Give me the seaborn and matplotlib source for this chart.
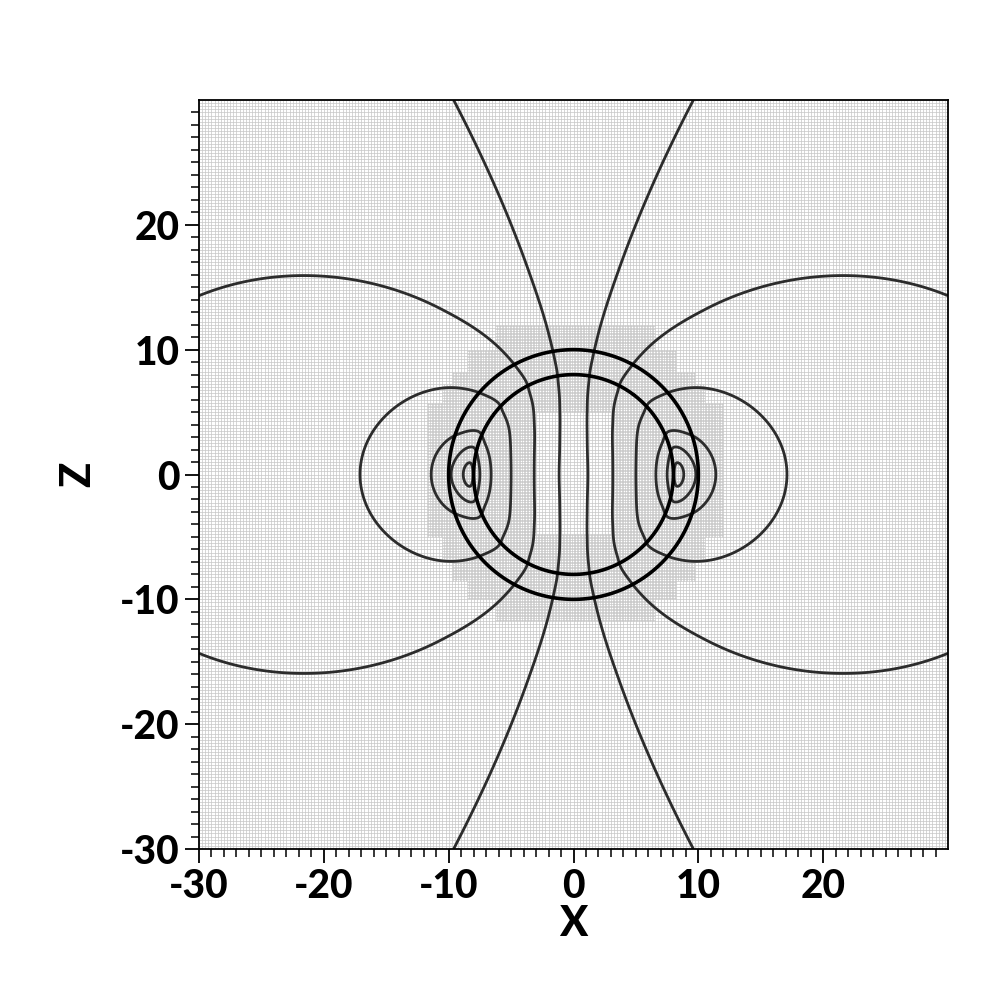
import numpy as np
import matplotlib
matplotlib.use("Agg")
import matplotlib.pyplot as plt
from matplotlib.collections import LineCollection
import seaborn as sns

# ---------------- data ----------------
x_limits = [-30, 30]
z_limits = [-30, 30]
major_ticks = [-30, -20, -10, 0, 10, 20]
tick_labels = ["-30", "-20", "-10", "0", "10", "20"]
minor_ticks = [v for v in range(-30, 30) if v % 10 != 0]

# radii on the z=0 line and the flux value there (flux = g(r) * sin^2(theta))
eq_radius = [1.2, 3.15, 5.0, 6.6, 7.5, 8.35, 9.8, 11.4, 17.1, 40.6]
eq_flux = [1.265, 9.6, 24.4, 38.6, 43.3, 46.5, 43.3, 38.6, 24.4, 9.6]
contour_levels = [1.16, 9.6, 24.4, 38.6, 43.3, 45.9]

# radii of the two shell circles
shell_radii = [8.0, 10.0]

# mesh: coarse and refined spacing, refined blocks (x0, x1, z0, z1)
coarse_dx = 0.25
fine_dx = 0.125
refined_blocks = [
    (-6.25, 6.5, -11.75, 12.0),
    (-8.5, 8.25, -10.0, 10.0),
    (-9.75, 9.75, -8.5, 8.25),
    (-10.5, 10.5, -7.0, 7.25),
    (-11.75, 12.0, -5.0, 5.75),
]
coarse_holes = [(-3.0, 3.25, -4.75, 5.0)]

# ---------------- style ----------------
sns.set_theme(style="ticks")
plt.rcParams["font.family"] = ["Lato", "DejaVu Sans"]

fig = plt.figure(figsize=(10, 10), dpi=100)
ax = fig.add_axes([0.199, 0.151, 0.749, 0.749])

# ---------------- mesh ----------------
mesh_color = "#c6c6c6"
mesh_lw = 0.5
x0, x1 = x_limits
z0, z1 = z_limits
coarse = np.arange(x0, x1 + 1e-9, coarse_dx)
segs = [[(v, z0), (v, z1)] for v in coarse]
segs += [[(x0, v), (x1, v)] for v in np.arange(z0, z1 + 1e-9, coarse_dx)]

n = int(round((x1 - x0) / fine_dx))
edges = x0 + fine_dx * np.arange(n + 1)
centers = edges[:-1] + fine_dx / 2
CX, CZ = np.meshgrid(centers, centers, indexing="ij")  # [ix, iz]
mask = np.zeros_like(CX, dtype=bool)
for (a, b, c, d) in refined_blocks:
    mask |= (CX > a) & (CX < b) & (CZ > c) & (CZ < d)
for (a, b, c, d) in coarse_holes:
    mask &= ~((CX > a) & (CX < b) & (CZ > c) & (CZ < d))


def runs(flags):
    p = np.concatenate([[0], flags.astype(int), [0]])
    dd = np.diff(p)
    return zip(np.where(dd == 1)[0], np.where(dd == -1)[0])


for k in range(1, n, 2):
    for s, e in runs(mask[k - 1, :]):
        segs.append([(edges[k], edges[s]), (edges[k], edges[e])])
    for s, e in runs(mask[:, k - 1]):
        segs.append([(edges[s], edges[k]), (edges[e], edges[k])])

ax.add_collection(LineCollection(segs, colors=mesh_color, linewidths=mesh_lw, zorder=1))

# ---------------- flux field: g(r) interpolated in log-log ----------------
lr = np.log(np.array(eq_radius))
lg = np.log(np.array(eq_flux))


def pchip_slopes(xk, yk, s0, s1):
    h = np.diff(xk)
    dlt = np.diff(yk) / h
    m = np.zeros_like(yk)
    for i in range(1, len(xk) - 1):
        if dlt[i - 1] * dlt[i] <= 0:
            m[i] = 0.0
        else:
            w1 = 2 * h[i] + h[i - 1]
            w2 = h[i] + 2 * h[i - 1]
            m[i] = (w1 + w2) / (w1 / dlt[i - 1] + w2 / dlt[i])
    m[0] = s0
    m[-1] = s1
    return m


inner_slope, outer_slope = 2.1, -1.0
slopes = pchip_slopes(lr, lg, inner_slope, outer_slope)


def log_g(x):
    out = np.empty_like(x)
    lo = x <= lr[0]
    hi = x >= lr[-1]
    out[lo] = lg[0] + inner_slope * (x[lo] - lr[0])
    out[hi] = lg[-1] + outer_slope * (x[hi] - lr[-1])
    mid = ~(lo | hi)
    xm = x[mid]
    idx = np.clip(np.searchsorted(lr, xm) - 1, 0, len(lr) - 2)
    hh = lr[idx + 1] - lr[idx]
    t = (xm - lr[idx]) / hh
    h00 = 2 * t**3 - 3 * t**2 + 1
    h10 = t**3 - 2 * t**2 + t
    h01 = -2 * t**3 + 3 * t**2
    h11 = t**3 - t**2
    out[mid] = (h00 * lg[idx] + h10 * hh * slopes[idx]
                + h01 * lg[idx + 1] + h11 * hh * slopes[idx + 1])
    return out


gx = np.linspace(x0, x1, 1201)
gz = np.linspace(z0, z1, 1201)
X, Z = np.meshgrid(gx, gz)
R = np.sqrt(X**2 + Z**2)
Rs = np.maximum(R, 1e-6)
psi = np.exp(log_g(np.log(Rs).ravel())).reshape(R.shape) * (X / Rs) ** 2

ax.contour(X, Z, psi, levels=contour_levels, colors="#2c2c2c",
           linewidths=2.0, zorder=3)
ax.contour(X, Z, R, levels=shell_radii, colors="black",
           linewidths=2.6, zorder=4)

# ---------------- axes ----------------
ax.set_xlim(x_limits)
ax.set_ylim(z_limits)
ax.set_xticks(major_ticks)
ax.set_yticks(major_ticks)
ax.set_xticks(minor_ticks, minor=True)
ax.set_yticks(minor_ticks, minor=True)
ax.set_xticklabels(tick_labels)
ax.set_yticklabels(tick_labels)
for sp in ax.spines.values():
    sp.set_color("black")
    sp.set_linewidth(1.3)
    sp.set_zorder(5)
ax.tick_params(which="major", direction="out", length=10, width=1.3,
               color="black", labelsize=28, pad=4,
               top=False, right=False)
ax.tick_params(which="minor", direction="out", length=6, width=1.1,
               color="black", top=False, right=False)
for lab in ax.get_xticklabels() + ax.get_yticklabels():
    lab.set_fontweight("black")
    lab.set_color("black")
ax.set_xlabel("X", fontsize=30, fontweight="black", color="black", labelpad=0)
ax.set_ylabel("Z", fontsize=30, fontweight="black", color="black", labelpad=16)
ax.grid(False)
ax.set_facecolor("white")

fig.savefig("out.png", dpi=100, facecolor="white")
